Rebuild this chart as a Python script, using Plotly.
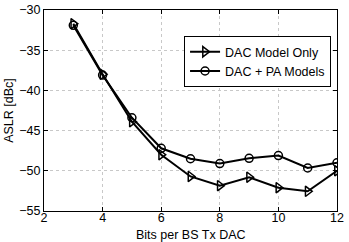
import plotly.graph_objects as go

bits = [3, 4, 5, 6, 7, 8, 9, 10, 11, 12]
dac_only = [-31.7, -38.0, -43.9, -48.0, -50.7, -51.85, -50.8, -52.1, -52.55, -50.0]
dac_pa = [-31.9, -38.1, -43.4, -47.2, -48.5, -49.1, -48.45, -48.1, -49.65, -49.0]

x_ticks = [2, 4, 6, 8, 10, 12]
y_ticks = [-55, -50, -45, -40, -35, -30]

FONT = "Liberation Sans, Arial, Helvetica"

fig = go.Figure()
fig.add_trace(go.Scatter(
    x=bits, y=dac_only, name="DAC Model Only", mode="lines+markers",
    line=dict(color="black", width=2),
    marker=dict(symbol="triangle-right-open", size=9, color="black", line=dict(width=1.5)),
))
fig.add_trace(go.Scatter(
    x=bits, y=dac_pa, name="DAC + PA Models", mode="lines+markers",
    line=dict(color="black", width=2),
    marker=dict(symbol="circle-open", size=8, color="black", line=dict(width=1.5)),
))

axis_common = dict(
    showline=True, linecolor="black", linewidth=1, mirror="ticks",
    ticks="inside", ticklen=4, tickcolor="black",
    showgrid=True, gridcolor="#c8c8c8", griddash="dot", gridwidth=1,
    zeroline=False, ticklabeloverflow="allow",
    tickfont=dict(family=FONT, size=12.5, color="black"),
)

fig.update_xaxes(range=[2, 12], tickvals=x_ticks, ticktext=[str(v) for v in x_ticks],
                 automargin=False, ticklabelstandoff=-5,
                 **axis_common)
fig.update_yaxes(range=[-55, -30], tickvals=y_ticks, automargin=False,
                 ticktext=["\u221255", "\u221250", "\u221245", "\u221240", "\u221235", "\u221230"],
                 title=dict(text="ASLR [dBc]", standoff=2,
                            font=dict(family=FONT, size=12.5, color="black")),
                 **axis_common)

fig.add_annotation(text="Bits per BS Tx DAC", xref="paper", yref="paper",
                   x=0.5, y=-0.157, xanchor="center", yanchor="bottom", borderpad=0,
                   showarrow=False, font=dict(family=FONT, size=12.5, color="black"))

fig.update_layout(
    width=349, height=242,
    margin=dict(l=44, r=12, t=10, b=31),
    plot_bgcolor="white", paper_bgcolor="white",
    font=dict(family=FONT, size=12.5, color="black"),
    legend=dict(x=0.478, y=0.87, xanchor="left", yanchor="top",
                bordercolor="black", borderwidth=1, bgcolor="white",
                font=dict(size=12.5), tracegroupgap=0, itemwidth=30),
)

fig.write_html("out.html", config={"displayModeBar": False},
               post_script="document.body.style.margin='0px';")
